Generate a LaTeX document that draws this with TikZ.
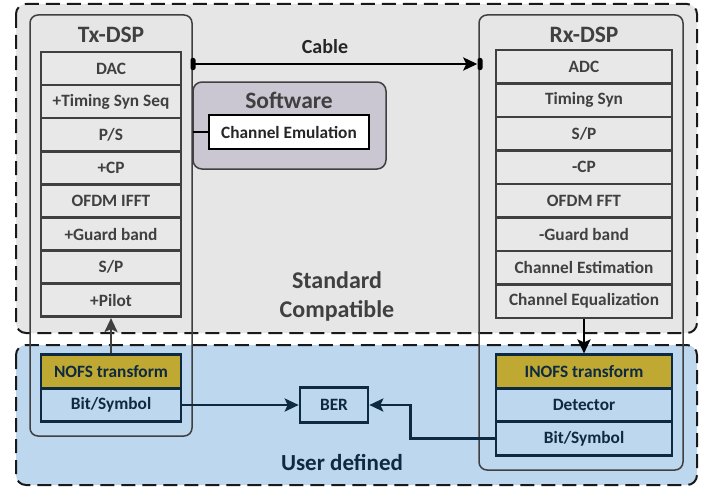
\documentclass[tikz,border=0pt]{standalone}
\usepackage{fontspec}
\setmainfont{Carlito}
\usetikzlibrary{arrows.meta}
\definecolor{regiongrey}{HTML}{E6E6E6}
\definecolor{regionblue}{HTML}{BDD7EE}
\definecolor{blockgrey}{HTML}{E8E8E8}
\definecolor{swfill}{HTML}{CAC6D2}
\definecolor{gold}{HTML}{BFA932}
\definecolor{txtgrey}{HTML}{404040}
\definecolor{navy}{HTML}{0E2A42}
\tikzset{
  x=1pt,y=-1pt,
  region/.style={dash pattern=on 14pt off 7pt,line width=2pt,draw=black!90,rounded corners=10pt},
  dspbox/.style={draw=txtgrey,line width=1.5pt,rounded corners=8pt,inner sep=0pt},
  gblk/.style={draw=txtgrey,line width=2.6pt,fill=blockgrey,inner sep=0pt,text=txtgrey,font=\fontsize{17.3}{17.3}\selectfont\bfseries},
  bblk/.style={draw=navy,line width=2.6pt,fill=regionblue,inner sep=0pt,text=navy,font=\fontsize{17.3}{17.3}\selectfont\bfseries},
  yblk/.style={bblk,fill=gold},
  title/.style={text=txtgrey,font=\fontsize{23.5}{23.5}\selectfont\bfseries},
  term/.style={fill=black,rounded corners=2pt,minimum width=5pt,minimum height=12pt,inner sep=0pt},
  arr/.style={-{Stealth[length=14pt,width=13pt,inset=3pt]},line width=2.8pt},
}
\begin{document}
\begin{tikzpicture}
\useasboundingbox (0,0) rectangle (714,487);
% regions
\path[region,fill=regiongrey] (16,4) rectangle (697,333);
\path[region,fill=regionblue] (16,345) rectangle (697,485);
\node (std) at (337,296) [align=center,text=txtgrey,font=\fontsize{24}{29}\selectfont\bfseries] {Standard\\Compatible};
\node (usr) at (342,462) [text=navy,font=\fontsize{23}{23}\selectfont\bfseries] {User defined};
% DSP outer boxes
\node[dspbox,minimum width=162pt,minimum height=421pt] (txbox) at (111,225.5) {};
\node[dspbox,minimum width=204pt,minimum height=455pt] (rxbox) at (581,242.5) {};
\node[title] (txt) at (111,35) {Tx-DSP};
\node[title] (rxt) at (584,35) {Rx-DSP};
% Tx blocks
\foreach \lab/\nm [count=\i from 0] in {DAC/dac,+Timing Syn Seq/tim,{P/S}/ps,+CP/cp,OFDM IFFT/ifft,+Guard band/gb,{S/P}/sp,+Pilot/pilot}{
  \node[gblk,minimum width=140pt,minimum height=33.1pt] (\nm) at (111,{68.5+33.1*\i}) {\lab};
}
\node[yblk,minimum width=140pt,minimum height=33.5pt] (nofs) at (111,371.5) {NOFS transform};
\node[bblk,minimum width=140pt,minimum height=33.5pt] (txbit) at (111,405) {Bit/Symbol};
% Rx blocks
\foreach \lab/\nm [count=\i from 0] in {ADC/adc,Timing Syn/rtim,{S/P}/rsp,-CP/rcp,OFDM FFT/fft,-Guard band/rgb,Channel Estimation/ches,Channel Equalization/cheq}{
  \node[gblk,minimum width=176pt,minimum height=33.5pt] (\nm) at (584,{66.75+33.5*\i}) {\lab};
}
\node[yblk,minimum width=176pt,minimum height=33.5pt] (inofs) at (584,371.5) {INOFS transform};
\node[bblk,minimum width=176pt,minimum height=33.5pt] (det) at (584,405) {Detector};
\node[bblk,minimum width=176pt,minimum height=33.5pt] (rxbit) at (584,438.5) {Bit/Symbol};
% Software
\node[draw=txtgrey,line width=1.5pt,fill=swfill,rounded corners=9pt,minimum width=193pt,minimum height=87pt,inner sep=0pt] (sw) at (289.5,125.5) {};
\node[title] (swt) at (289,100) {Software};
\node[draw=black,line width=2.8pt,fill=white,minimum width=160pt,minimum height=34pt,inner sep=0pt,font=\fontsize{17.3}{17.3}\selectfont\bfseries,text=black!85] (chem) at (289,132) {Channel Emulation};
\draw[line width=2.6pt] (txbox.east |- chem.west) -- (chem.west);
% Cable
\node[term] (t1) at (193,64) {};
\node[term] (t2) at (480,64) {};
\draw[arr] (t1.center) -- (t2.west);
\node[font=\fontsize{20}{20}\selectfont\bfseries,text=black!85] (cab) at (325,47) {Cable};
% BER
\node[bblk,fill=regionblue,minimum width=68pt,minimum height=35pt] (ber) at (334,405) {BER};
% arrows
\draw[arr,txtgrey] (nofs.north) -- (pilot.south);
\draw[arr,black] (cheq.south) -- (inofs.north);
\draw[arr,navy] (txbit.east) -- (ber.west);
\draw[arr,navy] (rxbit.west) -- ++(-84,0) |- (ber.east);
\end{tikzpicture}
\end{document}
